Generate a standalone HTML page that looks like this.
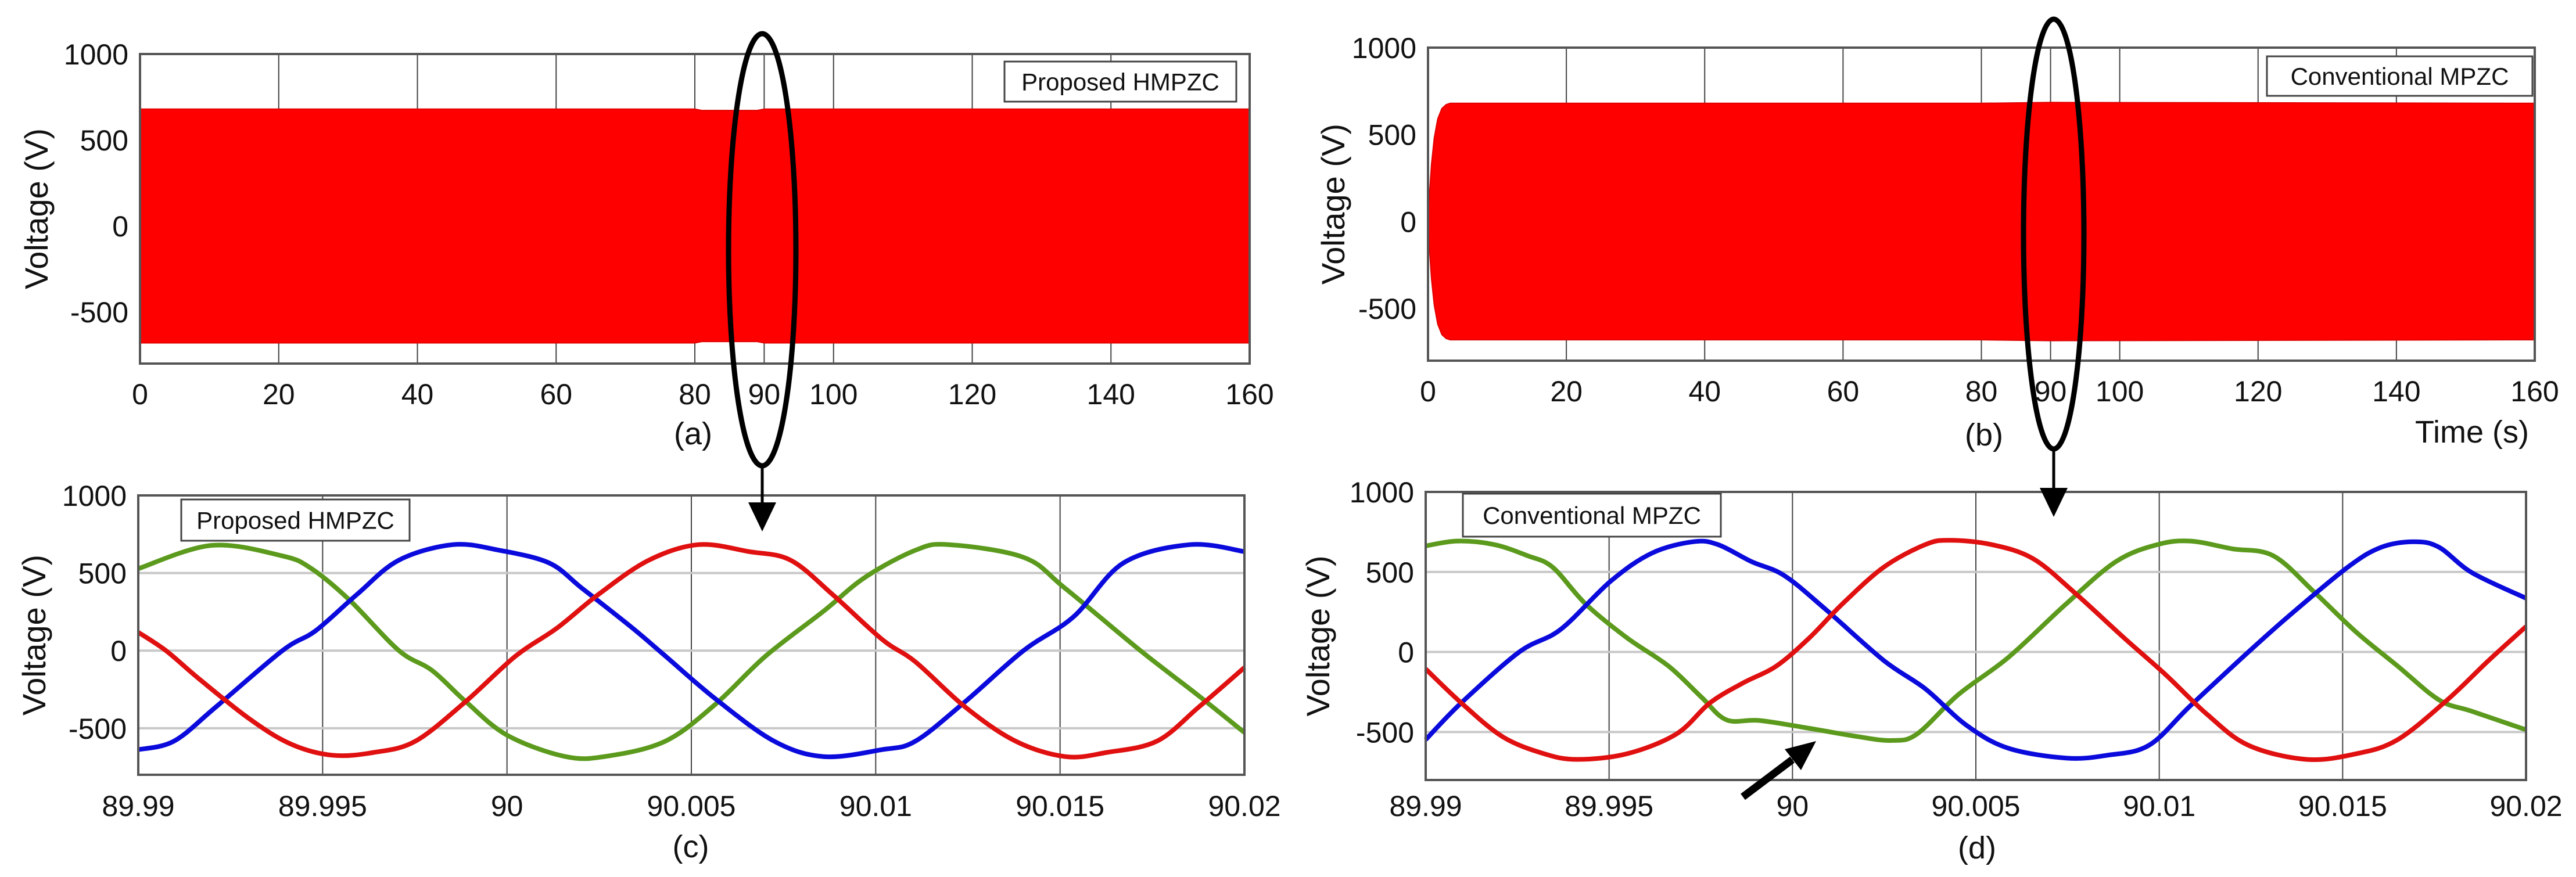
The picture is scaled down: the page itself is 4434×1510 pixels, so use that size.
<!DOCTYPE html>
<html><head><meta charset="utf-8"><style>
html,body{margin:0;padding:0;background:#fff;}
svg{display:block;font-family:"Liberation Sans",Arial,sans-serif;}
</style></head><body>
<svg id="fig" xmlns="http://www.w3.org/2000/svg" width="4434" height="1510" viewBox="0 0 4434 1510"></svg>
<script>
// ---------- data ----------
const envTimeA = [0, 80, 81, 89, 90, 160];
const envUpperA = [680, 680, 672, 672, 680, 680];
const envLowerA = [-680, -680, -672, -672, -680, -680];
const envTimeB = [0, 0.2, 0.5, 0.9, 1.4, 2.0, 2.6, 3.2, 80, 90, 160];
const envUpperB = [30, 150, 330, 480, 590, 650, 672, 680, 680, 685, 680];
const envLowerB = [-30, -150, -330, -480, -590, -650, -672, -680, -680, -685, -680];
const topTicks = [0, 20, 40, 60, 80, 90, 100, 120, 140, 160];
const yTicks = [1000, 500, 0, -500];
const bottomTickLabels = ["89.99", "89.995", "90", "90.005", "90.01", "90.015", "90.02"];
const bottomTicksMs = [0, 5, 10, 15, 20, 25, 30];
const cGreenT = [0,1.99,3.91,4.7,5.72,7.07,7.97,8.88,10.01,11.59,12.72,14.3,15.65,17.01,18.59,19.72,21.08,21.98,24.01,25.14,27.18,28.76,30];
const cGreenV = [528,678,610,528,328,0,-128,-328,-546,-683,-680,-583,-346,-36,255,474,647,683,601,401,0,-291,-528];
const cBlueT = [0,0.97,2.1,3.91,4.81,5.94,7.07,8.54,9.78,11.14,12.04,13.4,14.3,15.65,17.24,18.59,20.17,21.08,22.43,24.01,25.37,26.72,28.53,30];
const cBlueV = [-638,-583,-364,0,128,364,583,683,647,565,401,146,-36,-310,-583,-683,-638,-583,-328,0,219,565,683,638];
const cRedT = [0,0.75,1.65,3.0,4.13,5.26,6.39,7.52,8.88,10.23,11.36,12.49,13.85,15.2,16.56,17.69,18.82,20.17,21.08,22.43,23.79,25.14,26.27,27.63,28.76,30];
const cRedV = [118,0,-182,-437,-601,-674,-656,-583,-328,-36,146,364,583,683,638,583,364,73,-73,-364,-583,-683,-656,-583,-364,-109];
const dGreenT = [0,0.86,1.87,2.78,3.46,4.36,5.49,6.62,7.52,8.2,9.1,10.46,11.81,12.72,13.4,14.53,15.88,17.46,18.82,19.95,20.85,21.98,23.11,24.24,25.37,26.5,27.63,28.53,30];
const dGreenV = [663,693,671,601,530,300,88,-88,-283,-424,-428,-477,-530,-553,-512,-265,-35,300,565,671,693,645,601,371,124,-88,-300,-371,-486];
const dBlueT = [0,0.97,2.55,3.68,5.04,6.17,7.3,7.97,8.88,9.78,10.91,12.49,13.62,14.75,15.88,17.46,18.59,19.72,20.85,22.43,23.56,25.14,26.05,26.95,27.63,28.53,30];
const dBlueV = [-548,-318,0,141,442,618,689,671,565,477,265,-53,-230,-459,-601,-663,-645,-583,-336,0,230,530,654,689,654,495,336];
const dRedT = [0,0.97,2.1,3.23,4.13,5.49,6.84,7.75,8.65,9.56,10.46,11.36,12.49,13.62,14.3,15.43,16.56,17.69,19.04,20.17,21.3,22.43,24.01,25.37,26.5,27.85,28.98,30];
const dRedV = [-106,-318,-530,-636,-671,-636,-512,-318,-194,-88,88,300,530,671,698,671,583,371,88,-141,-389,-583,-671,-636,-548,-300,-53,159];

// ---------- helpers ----------
const NS = "http://www.w3.org/2000/svg";
const svg = document.getElementById("fig");
function mk(tag, attrs, parent) {
  const e = document.createElementNS(NS, tag);
  for (const k in attrs) e.setAttribute(k, attrs[k]);
  (parent || svg).appendChild(e);
  return e;
}
function scales(p) {
  return {
    x: v => p.L + (v - p.x0) / (p.x1 - p.x0) * (p.R - p.L),
    y: v => p.B - (v - (-800)) / 1800 * (p.B - p.T)
  };
}
function smoothPath(pts) {
  let d = "M" + pts[0][0].toFixed(1) + "," + pts[0][1].toFixed(1);
  for (let i = 0; i < pts.length - 1; i++) {
    const p0 = pts[Math.max(0, i - 1)], p1 = pts[i], p2 = pts[i + 1], p3 = pts[Math.min(pts.length - 1, i + 2)];
    const c1 = [p1[0] + (p2[0] - p0[0]) / 6, p1[1] + (p2[1] - p0[1]) / 6];
    const c2 = [p2[0] - (p3[0] - p1[0]) / 6, p2[1] - (p3[1] - p1[1]) / 6];
    d += "C" + c1.map(n => n.toFixed(1)).join(",") + " " + c2.map(n => n.toFixed(1)).join(",") + " " + p2[0].toFixed(1) + "," + p2[1].toFixed(1);
  }
  return d;
}
function axesFrame(p, g, s, xTickVals, xLabels, hGrid) {
  xTickVals.forEach((t, i) => {
    const gl = mk("line", {x1: s.x(t), x2: s.x(t), y1: p.T, y2: p.B, stroke: "#444", "stroke-width": 2}, g);
    
    
    const tl = mk("text", {x: s.x(t), y: p.tickY, "font-size": 50, "text-anchor": "middle", fill: "#111"}, g);
    tl.textContent = xLabels[i];
    
    
  });
  yTicks.forEach(v => {
    if (hGrid && v > -800 && v < 1000) {
      const hl = mk("line", {x1: p.L, x2: p.R, y1: s.y(v), y2: s.y(v), stroke: "#c8c8c8", "stroke-width": 4}, g);
      
      
    }
    const yl = mk("text", {x: p.L - 20, y: s.y(v) + 18, "font-size": 50, "text-anchor": "end", fill: "#111"}, g);
    yl.textContent = String(v);
    
    
  });
  const yt = mk("text", {x: 0, y: 0, "font-size": 56, "text-anchor": "middle", fill: "#111",
    transform: "translate(" + p.ylx + "," + ((p.T + p.B) / 2) + ") rotate(-90)"}, g);
  yt.textContent = "Voltage (V)";
  
  
}
function frameBox(p, g) {
  const b = mk("rect", {x: p.L, y: p.T, width: p.R - p.L, height: p.B - p.T, fill: "none", stroke: "#555", "stroke-width": 4}, g);
  
  
}
function legendBox(x, y, w, h, label, g) {
  const lg = mk("g", {}, g);
  
  
  mk("rect", {x: x, y: y, width: w, height: h, fill: "#fff", stroke: "#444", "stroke-width": 3}, lg);
  const t = mk("text", {x: x + w / 2, y: y + h / 2 + 15, "font-size": 42, "text-anchor": "middle", fill: "#111"}, lg);
  t.textContent = label;
  
  
}

// ---------- top panels ----------
function topPanel(p, envT, envU, envL, name, legend, legendPos) {
  const g = mk("g", {});
  
  
  const s = scales(p);
  mk("rect", {x: p.L, y: p.T, width: p.R - p.L, height: p.B - p.T, fill: "#fff"}, g);
  axesFrame(p, g, s, topTicks, topTicks.map(String), false);
  let d = "";
  envT.forEach((t, i) => { d += (i ? "L" : "M") + s.x(t).toFixed(1) + "," + s.y(envU[i]).toFixed(1); });
  for (let i = envT.length - 1; i >= 0; i--) d += "L" + s.x(envT[i]).toFixed(1) + "," + s.y(envL[i]).toFixed(1);
  const band = mk("path", {d: d + "Z", fill: "#ff0000", stroke: "#e00000", "stroke-width": 2}, g);
  
  
  frameBox(p, g);
  legendBox(legendPos[0], legendPos[1], legendPos[2], legendPos[3], legend, g);
}
const pA = {L: 241, R: 2151, T: 93, B: 626, x0: 0, x1: 160, tickY: 696, ylx: 82};
const pB = {L: 2458, R: 4363, T: 82, B: 621, x0: 0, x1: 160, tickY: 691, ylx: 2314};
topPanel(pA, envTimeA, envUpperA, envLowerA, "panel-a-proposed-hmpzc", "Proposed HMPZC", [1729, 106, 399, 69]);
topPanel(pB, envTimeB, envUpperB, envLowerB, "panel-b-conventional-mpzc", "Conventional MPZC", [3902, 97, 457, 68]);

// ---------- bottom panels ----------
function bottomPanel(p, series, name, legend, legendPos) {
  const g = mk("g", {});
  
  
  const s = scales(p);
  axesFrame(p, g, s, bottomTicksMs, bottomTickLabels, true);
  series.forEach(sr => {
    const pts = sr.t.map((t, i) => [s.x(t), s.y(sr.v[i])]);
    const path = mk("path", {d: smoothPath(pts), fill: "none", stroke: sr.c, "stroke-width": 8, "stroke-linejoin": "round"}, g);
    
    
  });
  frameBox(p, g);
  legendBox(legendPos[0], legendPos[1], legendPos[2], legendPos[3], legend, g);
}
const pC = {L: 238, R: 2142, T: 853, B: 1334, x0: 0, x1: 30, tickY: 1405, ylx: 78};
const pD = {L: 2454, R: 4348, T: 847, B: 1343, x0: 0, x1: 30, tickY: 1405, ylx: 2288};
bottomPanel(pC, [
  {t: cGreenT, v: cGreenV, c: "#5b9a1c", n: "phase-c-line-green"},
  {t: cBlueT, v: cBlueV, c: "#0a0adc", n: "phase-b-line-blue"},
  {t: cRedT, v: cRedV, c: "#e01010", n: "phase-a-line-red"}
], "panel-c-proposed-zoom", "Proposed HMPZC", [312, 860, 393, 71]);
bottomPanel(pD, [
  {t: dGreenT, v: dGreenV, c: "#5b9a1c", n: "phase-c-line-green"},
  {t: dBlueT, v: dBlueV, c: "#0a0adc", n: "phase-b-line-blue"},
  {t: dRedT, v: dRedV, c: "#e01010", n: "phase-a-line-red"}
], "panel-d-conventional-zoom", "Conventional MPZC", [2518, 850, 444, 74]);

// ---------- annotations ----------
function txt(x, y, s, size, name) {
  const t = mk("text", {x: x, y: y, "font-size": size, "text-anchor": "middle", fill: "#111"});
  t.textContent = s;
  
  
}
txt(1193, 765, "(a)", 54, "caption-a");
txt(3415, 767, "(b)", 54, "caption-b");
txt(1189, 1476, "(c)", 54, "caption-c");
txt(3403, 1478, "(d)", 54, "caption-d");
txt(4255, 762, "Time (s)", 54, "x-axis-title");

function zoomMarker(cx, cy, rx, ry, lineTo, tip, name) {
  const g = mk("g", {});
  
  
  mk("ellipse", {cx: cx, cy: cy, rx: rx, ry: ry, fill: "none", stroke: "#000", "stroke-width": 9}, g);
  mk("line", {x1: cx, x2: cx, y1: cy + ry, y2: lineTo, stroke: "#000", "stroke-width": 5}, g);
  mk("polygon", {points: (cx - 24) + "," + lineTo + " " + (cx + 24) + "," + lineTo + " " + cx + "," + tip, fill: "#000"}, g);
}
zoomMarker(1312, 430, 58, 372, 865, 915, "zoom-marker-a");
zoomMarker(3535, 403, 52, 370, 840, 890, "zoom-marker-b");

const ag = mk("g", {});


mk("line", {x1: 3000, y1: 1372, x2: 3085, y2: 1308, stroke: "#000", "stroke-width": 13}, ag);
mk("polygon", {points: "3126,1276 3072,1290 3100,1326", fill: "#000"}, ag);
</script>
</body></html>
